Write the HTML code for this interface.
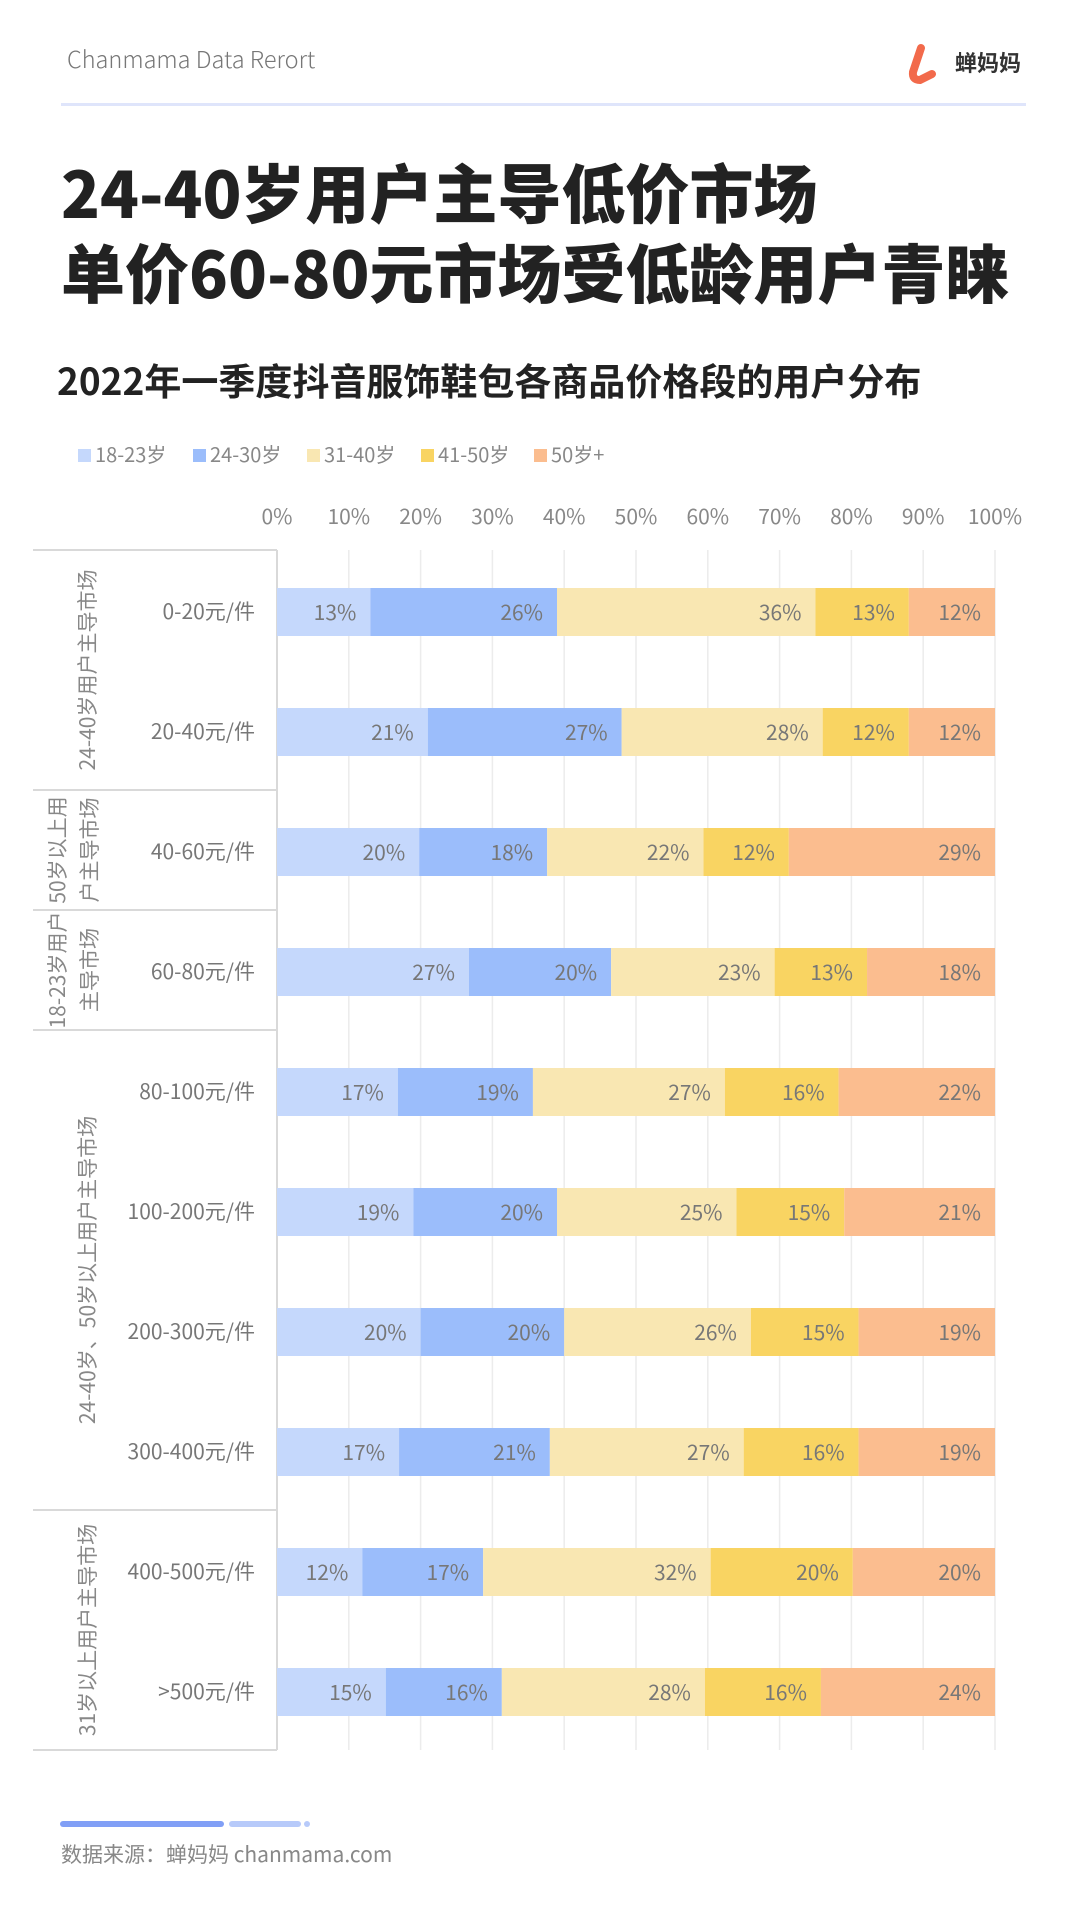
<!DOCTYPE html>
<html><head><meta charset="utf-8">
<style>
html,body{margin:0;padding:0;background:#fff;}
svg{display:block;font-family:"Liberation Sans","Noto Sans CJK SC",sans-serif;}
</style></head>
<body>
<svg id="chart" width="1080" height="1925" viewBox="0 0 1080 1925" xmlns="http://www.w3.org/2000/svg">
  <text x="67" y="68" font-size="23.5" fill="#777" font-family="Noto Sans CJK SC, sans-serif" font-weight="300">Chanmama Data Rerort</text>
  <g>
    <path d="M921 48 L913 72 Q912 80 920 80 L932 74" stroke="#f26a4b" stroke-width="8" fill="none" stroke-linecap="round"/>
    <text x="955" y="71" font-size="22" font-weight="700" fill="#333" font-family="Noto Sans CJK SC, sans-serif">蝉妈妈</text>
  </g>
  <rect x="61" y="103" width="965" height="3" fill="#dfe5fb"/>
  <text x="61" y="218" font-size="64" font-weight="900" fill="#222" font-family="Noto Sans CJK SC, sans-serif">24-40岁用户主导低价市场</text>
  <text x="61" y="298" font-size="64" font-weight="900" fill="#222" font-family="Noto Sans CJK SC, sans-serif">单价60-80元市场受低龄用户青睐</text>
  <text x="57" y="395" font-size="37" font-weight="700" fill="#222" font-family="Noto Sans CJK SC, sans-serif">2022年一季度抖音服饰鞋包各商品价格段的用户分布</text>
  <g id="legend"></g>
  <g id="grid"></g>
  <g id="ticks"></g>
  <g id="table"></g>
  <g id="bars"></g>
  <g>
    <rect x="60" y="1821" width="164" height="6" rx="3" fill="#819ff6"/>
    <rect x="229" y="1821" width="72" height="6" rx="3" fill="#b7cafa"/>
    <circle cx="307" cy="1824" r="3" fill="#b7cafa"/>
    <text x="61" y="1862" font-size="21" fill="#888" font-family="Noto Sans CJK SC, sans-serif">数据来源：蝉妈妈 chanmama.com</text>
  </g>
</svg>
<script>
const categories = ["0-20元/件","20-40元/件","40-60元/件","60-80元/件","80-100元/件","100-200元/件","200-300元/件","300-400元/件","400-500元/件",">500元/件"];
const seriesNames = ["18-23岁","24-30岁","31-40岁","41-50岁","50岁+"];
const s1823 = [13,21,20,27,17,19,20,17,12,15];
const s2430 = [26,27,18,20,19,20,20,21,17,16];
const s3140 = [36,28,22,23,27,25,26,27,32,28];
const s4150 = [13,12,12,13,16,15,15,16,20,16];
const s50p  = [12,12,29,18,22,21,19,19,20,24];
const tickLabels = ["0%","10%","20%","30%","40%","50%","60%","70%","80%","90%","100%"];
const tickValues = [0,10,20,30,40,50,60,70,80,90,100];
const groupLabels = [["24-40岁用户主导市场"],["50岁以上用","户主导市场"],["18-23岁用户","主导市场"],["24-40岁、50岁以上用户主导市场"],["31岁以上用户主导市场"]];
const groupSizes = [2,1,1,4,2];

const colors = ["#c5d8fc","#9bbdfb","#f9e7b2","#f9d462","#fbbd8f"];
const NS = "http://www.w3.org/2000/svg";
const X0 = 277, X1 = 995, TOP = 550, ROWH = 120, BARH = 48, TL = 33;
const xs = v => X0 + (X1 - X0) * v / 100;
const yRow = i => TOP + ROWH * i + ROWH / 2 + 2;
function mk(tag, attrs, parent){const e=document.createElementNS(NS,tag);for(const k in attrs)e.setAttribute(k,attrs[k]);parent.appendChild(e);return e;}
const font = "Noto Sans CJK SC, sans-serif";

const legend = document.getElementById('legend');
const legX = [78,193,307,421,534];
seriesNames.forEach((n,i)=>{
  const g = mk('g',{},legend);
  
  
  mk('rect',{x:legX[i],y:449,width:13,height:13,fill:colors[i]},g);
  const t = mk('text',{x:legX[i]+17,y:462,'font-size':20,fill:'#888','font-family':font},g);
  t.textContent = n;
});

const grid = document.getElementById('grid'), ticks = document.getElementById('ticks');
tickValues.forEach((v,i)=>{
  const l = mk('line',{x1:xs(v),x2:xs(v),y1:TOP,y2:TOP+ROWH*categories.length,stroke:'#ececec','stroke-width':1.5},grid);
  
  
  const t = mk('text',{x:xs(v),y:524,'font-size':21,fill:'#888','text-anchor':'middle','font-family':font},ticks);
  
  
  t.textContent = tickLabels[i];
});

const table = document.getElementById('table');
mk('line',{x1:X0,x2:X0,y1:TOP,y2:TOP+ROWH*categories.length,stroke:'#d9d9d9','stroke-width':2},table);
let r = 0;
mk('line',{x1:TL,x2:X0,y1:TOP,y2:TOP,stroke:'#d9d9d9','stroke-width':2},table);
groupSizes.forEach((sz,gi)=>{
  const yTop = TOP + r*ROWH, yBot = TOP + (r+sz)*ROWH;
  mk('line',{x1:TL,x2:X0,y1:yBot,y2:yBot,stroke:'#d9d9d9','stroke-width':2},table);
  const lines = groupLabels[gi];
  const cy = (yTop+yBot)/2;
  lines.forEach((ln,li)=>{
    const cx = lines.length===1 ? 88 : (li===0 ? 58 : 90);
    const t = mk('text',{x:0,y:0,'font-size':21,fill:'#888','text-anchor':'middle','font-family':font,transform:`translate(${cx+7},${cy}) rotate(-90)`},table);
    
    
    t.textContent = ln;
  });
  r += sz;
});
categories.forEach((c,i)=>{
  const t = mk('text',{x:255,y:yRow(i)+7,'font-size':21,fill:'#777','text-anchor':'end','font-family':font},table);
  
  
  t.textContent = c;
});

const bars = document.getElementById('bars');
const series = [s1823,s2430,s3140,s4150,s50p];
categories.forEach((c,i)=>{
  const tot = series.reduce((a,s)=>a+s[i],0);
  let cum = 0;
  series.forEach((s,si)=>{
    const v0 = cum*100/tot, v1 = (cum+s[i])*100/tot;
    cum += s[i];
    const rc = mk('rect',{x:xs(v0),y:yRow(i)-BARH/2,width:xs(v1)-xs(v0),height:BARH,fill:colors[si]},bars);
    
    
    const t = mk('text',{x:xs(v1)-14,y:yRow(i)+8,'font-size':21,fill:'#777','text-anchor':'end','font-family':font},bars);
    
    
    t.textContent = s[i]+'%';
  });
});
</script>
</body></html>
